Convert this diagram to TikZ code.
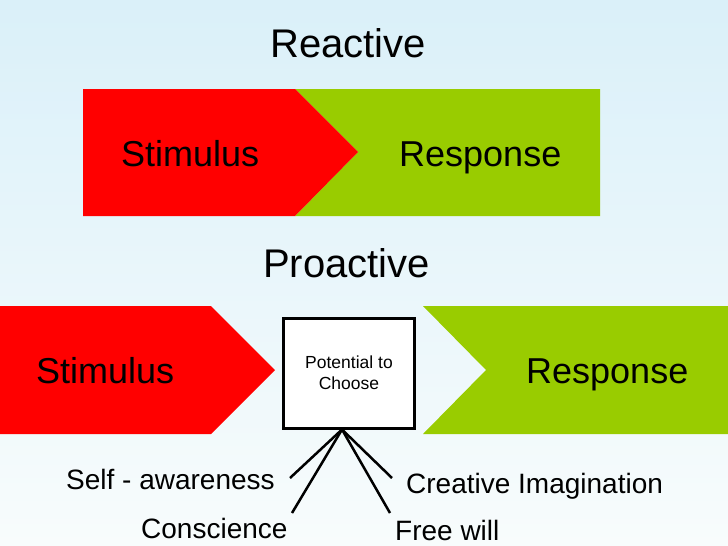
\documentclass[tikz,border=0pt]{standalone}
\usepackage{fontspec}
\setmainfont{Liberation Sans}
\definecolor{stimred}{RGB}{255,0,0}
\definecolor{respgreen}{RGB}{153,204,0}
\definecolor{skytop}{RGB}{218,240,249}
\definecolor{skybot}{RGB}{248,252,252}
\begin{document}
\begin{tikzpicture}[x=1pt,y=-1pt,
  title/.style={anchor=base west,inner sep=0pt,font=\fontsize{40}{44}\selectfont},
  big/.style={anchor=base west,inner sep=0pt,font=\fontsize{36}{40}\selectfont},
  trait/.style={anchor=base west,inner sep=0pt,font=\fontsize{28}{32}\selectfont}]
% background
\shade[top color=skytop,bottom color=skybot] (0,0) rectangle (728,546);
\useasboundingbox (0,0) rectangle (728,546);
% reactive
\node[title] (react) at (270,57) {Reactive};
\fill[respgreen] (295,89) -- (600,89) -- (600,216) -- (295,216) -- (358,152) -- cycle;
\fill[stimred] (83,89) -- (295,89) -- (358,152) -- (295,216) -- (83,216) -- cycle;
\node[big] (stim1) at (121,166) {Stimulus};
\node[big] (resp1) at (399,166) {Response};
% proactive
\node[title] (proact) at (263,277) {Proactive};
\fill[stimred] (0,306) -- (211,306) -- (275,370) -- (211,434) -- (0,434) -- cycle;
\fill[respgreen] (423,306) -- (728,306) -- (728,434) -- (423,434) -- (486,370) -- cycle;
\node[big] (stim2) at (36,383) {Stimulus};
\node[big] (resp2) at (526,383) {Response};
\node[draw,line width=3pt,fill=white,minimum width=131pt,minimum height=110pt,
  align=center,font=\fontsize{17.5}{21}\selectfont] (choose) at (349,373) {Potential to\\Choose};
% traits
\coordinate (root) at ([xshift=-7pt]choose.south);
\coordinate (sa) at (290,478);
\coordinate (co) at (292,513);
\coordinate (ci) at (392,478);
\coordinate (fw) at (390,513);
\draw[line width=2.5pt] (root) -- (sa);
\draw[line width=2.5pt] (root) -- (co);
\draw[line width=2.5pt] (root) -- (ci);
\draw[line width=2.5pt] (root) -- (fw);
\node[trait] (selfaw) at (66,489) {Self - awareness};
\node[trait] (consc) at (141,538) {Conscience};
\node[trait] (creat) at (406,493) {Creative Imagination};
\node[trait] (free) at (395,540) {Free will};
\end{tikzpicture}
\end{document}
